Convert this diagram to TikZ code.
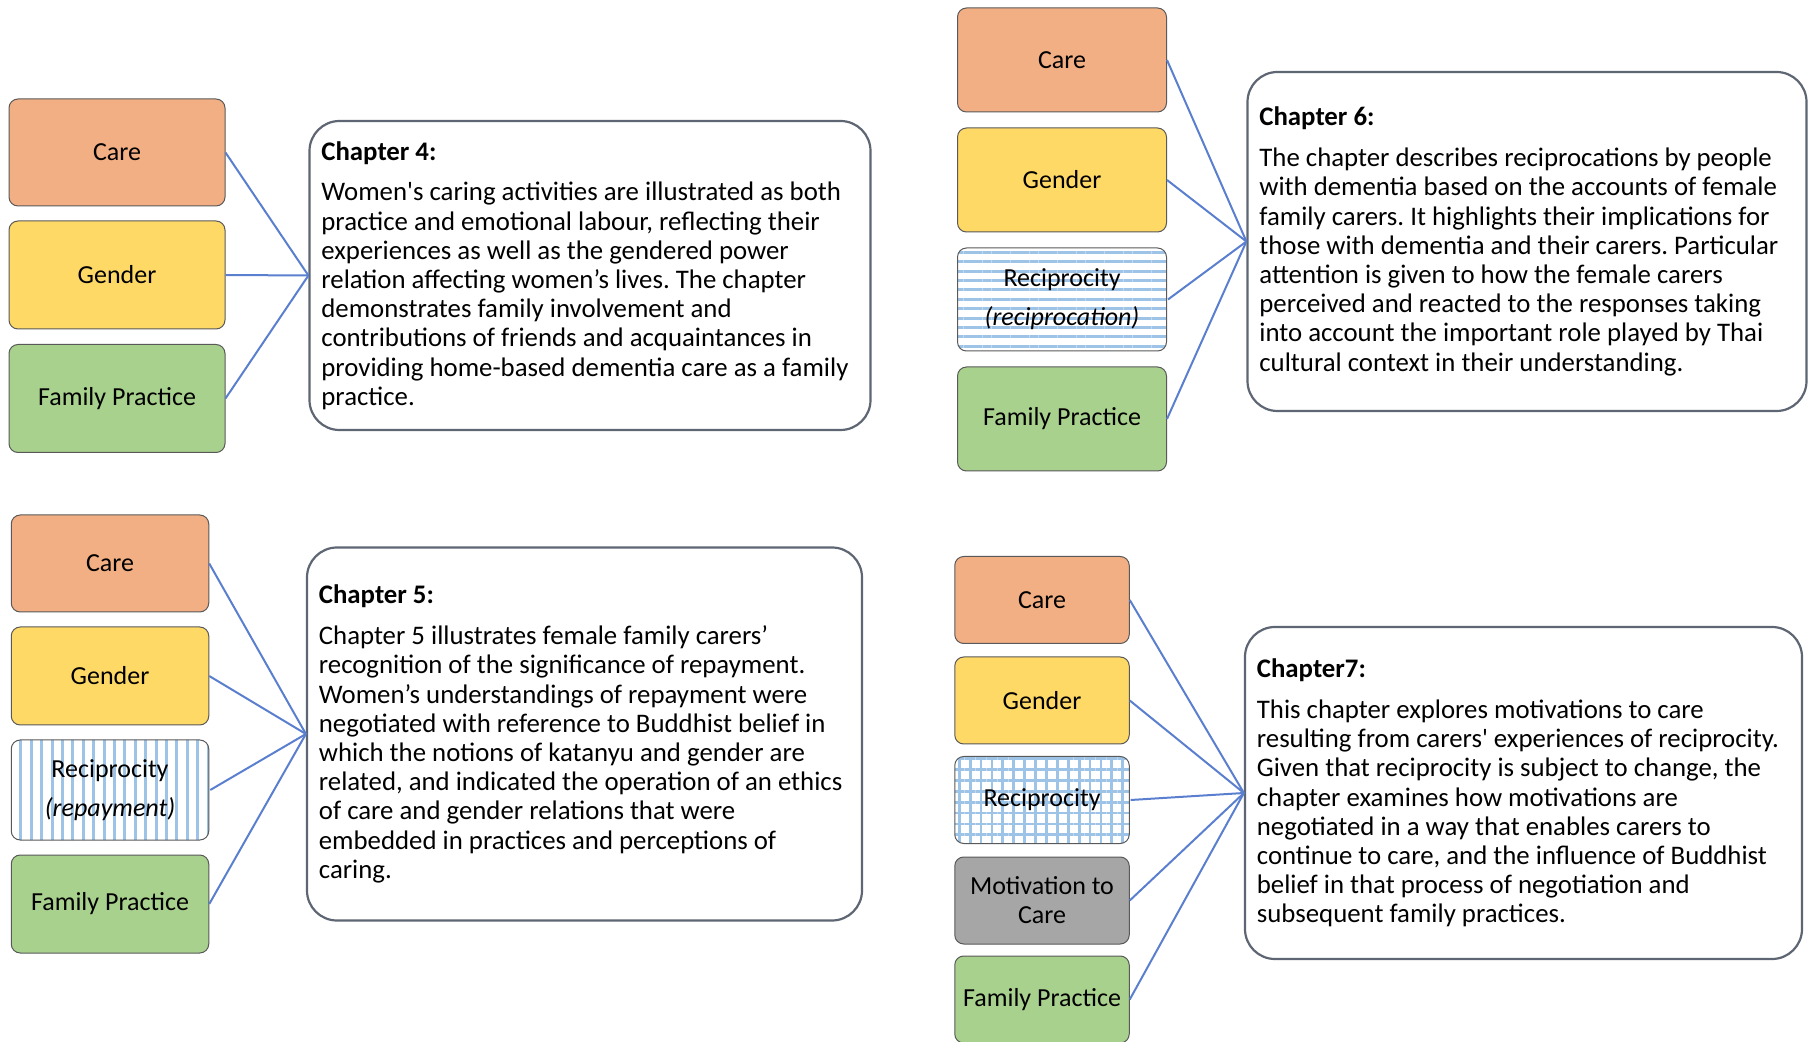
\documentclass[tikz,border=0pt]{standalone}
\usepackage{fontspec}
\setmainfont{Carlito}[Ligatures=TeXOff]
\usetikzlibrary{patterns.meta}
\frenchspacing

\definecolor{careC}{HTML}{F3AF84}
\definecolor{genderC}{HTML}{FFD966}
\definecolor{famC}{HTML}{A9D18E}
\definecolor{motC}{HTML}{A6A6A6}
\definecolor{stripeC}{HTML}{9DC3E6}
\definecolor{linkC}{HTML}{5B7FCF}
\definecolor{frameC}{HTML}{5E6673}
\definecolor{edgeC}{HTML}{595959}

\tikzset{
  concept/.style={draw=edgeC, line width=0.5pt, rounded corners=4.5pt,
    font=\fontsize{13}{15.6}\selectfont, align=center, inner sep=0pt},
  care/.style={concept, fill=careC},
  gender/.style={concept, fill=genderC},
  famprac/.style={concept, fill=famC},
  motive/.style={concept, fill=motC, font=\fontsize{13}{14.5}\selectfont},
  hstripes/.style={concept, pattern={Lines[angle=0,distance=4.7pt,line width=1.5pt]}, pattern color=stripeC,
    font=\fontsize{13}{19.6}\selectfont},
  vstripes/.style={concept, pattern={Lines[angle=90,distance=5.2pt,line width=1.5pt]}, pattern color=stripeC,
    font=\fontsize{13}{19.6}\selectfont},
  gridfill/.style={concept, pattern={Hatch[angle=0,distance=5.45pt,line width=1.4pt]}, pattern color=stripeC},
  chapbox/.style={draw=frameC, line width=1.1pt, rounded corners=15pt, fill=white, inner sep=0pt},
  chaptext/.style={anchor=west, align=left, inner sep=0pt, font=\fontsize{13.4}{14.6}\selectfont},
  link/.style={draw=linkC, line width=1pt},
}

\begin{document}
\begin{tikzpicture}[x=0.5pt,y=-0.5pt]
\useasboundingbox (0,0) rectangle (1811,1042);

% ---------- Chapter 4 ----------
\node[care,    minimum width=108pt, minimum height=53.5pt] (c4care) at (117,152.5) {Care};
\node[gender,  minimum width=108pt, minimum height=54pt]   (c4gen)  at (117,275) {Gender};
\node[famprac, minimum width=108pt, minimum height=54pt]   (c4fam)  at (117,398.5) {Family Practice};
\node[chapbox, minimum width=280.5pt, minimum height=154.5pt] (ch4) at (590,275.5) {};
\node[chaptext] (ch4t) at ([xshift=6.3pt]ch4.west) {\textbf{Chapter 4:}\\[5.8pt]
Women's caring activities are illustrated as both\\
practice and emotional labour, reflecting their\\
experiences as well as the gendered power\\
relation affecting women’s lives. The chapter\\
demonstrates family involvement and\\
contributions of friends and acquaintances in\\
providing home-based dementia care as a family\\
practice.};
\foreach \n in {c4care,c4gen,c4fam} \draw[link] (\n.east) -- (ch4.west);

% ---------- Chapter 5 ----------
\node[care,     minimum width=98.75pt, minimum height=48.5pt] (c5care) at (110,563.5) {Care};
\node[gender,   minimum width=98.75pt, minimum height=49pt]   (c5gen)  at (110,676) {Gender};
\node[vstripes, minimum width=98.75pt, minimum height=50pt]   (c5rec)  at (110,790) {Reciprocity\\\textit{(repayment)}};
\node[famprac,  minimum width=98.75pt, minimum height=49pt]   (c5fam)  at (110,904) {Family Practice};
\node[chapbox, minimum width=277.5pt, minimum height=186.5pt] (ch5) at (584.5,734) {};
\node[chaptext] (ch5t) at ([xshift=6.3pt]ch5.west) {\textbf{Chapter 5:}\\[5.8pt]
Chapter 5 illustrates female family carers’\\
recognition of the significance of repayment.\\
Women’s understandings of repayment were\\
negotiated with reference to Buddhist belief in\\
which the notions of katanyu and gender are\\
related, and indicated the operation of an ethics\\
of care and gender relations that were\\
embedded in practices and perceptions of\\
caring.};
\foreach \n in {c5care,c5gen,c5rec,c5fam} \draw[link] (\n.east) -- (ch5.west);

% ---------- Chapter 6 ----------
\node[care,     minimum width=104.5pt, minimum height=52pt] (c6care) at (1062,60) {Care};
\node[gender,   minimum width=104.5pt, minimum height=52pt] (c6gen)  at (1062,180) {Gender};
\node[hstripes, minimum width=104.5pt, minimum height=51.5pt] (c6rec) at (1062,299.5) {Reciprocity\\\textit{(reciprocation)}};
\node[famprac,  minimum width=104.5pt, minimum height=52pt] (c6fam)  at (1062,419) {Family Practice};
\node[chapbox, minimum width=279.5pt, minimum height=169.5pt] (ch6) at (1527,241.5) {};
\node[chaptext] (ch6t) at ([xshift=6.3pt]ch6.west) {\textbf{Chapter 6:}\\[5.8pt]
The chapter describes reciprocations by people\\
with dementia based on the accounts of female\\
family carers. It highlights their implications for\\
those with dementia and their carers. Particular\\
attention is given to how the female carers\\
perceived and reacted to the responses taking\\
into account the important role played by Thai\\
cultural context in their understanding.};
\foreach \n in {c6care,c6gen,c6rec,c6fam} \draw[link] (\n.east) -- (ch6.west);

% ---------- Chapter 7 ----------
\node[care,     minimum width=87.25pt, minimum height=43.5pt] (c7care) at (1042,600) {Care};
\node[gender,   minimum width=87.25pt, minimum height=43.5pt] (c7gen)  at (1042,700.5) {Gender};
\node[gridfill, minimum width=87.25pt, minimum height=43.5pt] (c7rec)  at (1042,800) {Reciprocity};
\node[motive,   minimum width=87.25pt, minimum height=43.5pt] (c7mot)  at (1042,900.5) {Motivation to\\Care};
\node[famprac,  minimum width=87.25pt, minimum height=43.5pt] (c7fam)  at (1042,999.5) {Family Practice};
\node[chapbox, minimum width=278.5pt, minimum height=166pt] (ch7) at (1523.5,793) {};
\node[chaptext] (ch7t) at ([xshift=6.3pt]ch7.west) {\textbf{Chapter7:}\\[5.8pt]
This chapter explores motivations to care\\
resulting from carers' experiences of reciprocity.\\
Given that reciprocity is subject to change, the\\
chapter examines how motivations are\\
negotiated in a way that enables carers to\\
continue to care, and the influence of Buddhist\\
belief in that process of negotiation and\\
subsequent family practices.};
\foreach \n in {c7care,c7gen,c7rec,c7mot,c7fam} \draw[link] (\n.east) -- (ch7.west);
\end{tikzpicture}
\end{document}
